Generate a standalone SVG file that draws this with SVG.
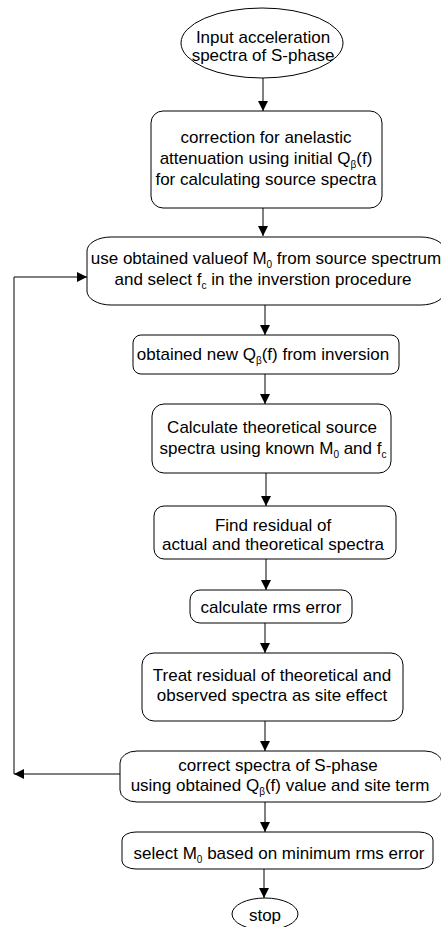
<svg xmlns="http://www.w3.org/2000/svg" width="441" height="927" viewBox="0 0 441 927">
<defs>
<style>
.n{fill:#fff;stroke:#000;stroke-width:1}
.t{font-family:"Liberation Sans",Arial,sans-serif;font-size:17px;fill:#000;text-anchor:middle}
.s{font-size:10px}
.c{fill:none;stroke:#000;stroke-width:1}
</style>
<marker id="ah" markerUnits="userSpaceOnUse" markerWidth="10" markerHeight="10" refX="10" refY="5" orient="auto">
<path d="M0,0 L10,5 L0,10 z" fill="#000"/>
</marker>
</defs>
<rect width="441" height="927" fill="#fff"/>
<g id="connectors">
<line class="c" x1="263" y1="78" x2="263" y2="111" marker-end="url(#ah)"/>
<line class="c" x1="263" y1="208" x2="263" y2="236" marker-end="url(#ah)"/>
<line class="c" x1="265" y1="305" x2="265" y2="335" marker-end="url(#ah)"/>
<line class="c" x1="265" y1="374" x2="265" y2="404" marker-end="url(#ah)"/>
<line class="c" x1="266" y1="473" x2="266" y2="506" marker-end="url(#ah)"/>
<line class="c" x1="266" y1="559" x2="266" y2="590" marker-end="url(#ah)"/>
<line class="c" x1="265" y1="623" x2="265" y2="653" marker-end="url(#ah)"/>
<line class="c" x1="265" y1="721" x2="265" y2="751" marker-end="url(#ah)"/>
<line class="c" x1="265" y1="802" x2="265" y2="832" marker-end="url(#ah)"/>
<line class="c" x1="264" y1="869" x2="264" y2="898" marker-end="url(#ah)"/>
<line class="c" x1="120" y1="774" x2="14" y2="774" marker-end="url(#ah)"/>
<polyline class="c" points="14,774 14,277 87,277" marker-end="url(#ah)"/>
</g>
<g id="start">
<ellipse class="n" cx="262" cy="43" rx="81" ry="35"/>
<text class="t" x="263" y="43">Input acceleration</text>
<text class="t" x="263" y="61">spectra of S-phase</text>
</g>
<g id="correction">
<rect class="n" x="151" y="111" width="231" height="97" rx="12" ry="12"/>
<text class="t" x="266" y="143">correction for anelastic</text>
<text class="t" x="266" y="164">attenuation using initial Q<tspan class="s" dy="4">β</tspan><tspan dy="-4">(f)</tspan></text>
<text class="t" x="266" y="185">for calculating source spectra</text>
</g>
<g id="use-m0">
<rect class="n" x="87" y="237" width="358" height="68" rx="24" ry="14"/>
<text class="t" x="266" y="264">use obtained valueof M<tspan class="s" dy="4">0</tspan><tspan dy="-4"> from source spectrum</tspan></text>
<text class="t" x="263" y="285">and select f<tspan class="s" dy="4">c</tspan><tspan dy="-4"> in the inverstion procedure</tspan></text>
</g>
<g id="new-q">
<rect class="n" x="133" y="335" width="266" height="39" rx="8" ry="8"/>
<text class="t" x="263" y="360">obtained new Q<tspan class="s" dy="4">β</tspan><tspan dy="-4">(f) from inversion</tspan></text>
</g>
<g id="theoretical">
<rect class="n" x="152" y="404" width="239" height="69" rx="12" ry="12"/>
<text class="t" x="272" y="433">Calculate theoretical source</text>
<text class="t" x="273" y="454">spectra using known M<tspan class="s" dy="4">0</tspan><tspan dy="-4"> and f</tspan><tspan class="s" dy="4">c</tspan></text>
</g>
<g id="residual">
<rect class="n" x="154" y="506" width="242" height="53" rx="10" ry="10"/>
<text class="t" x="273" y="531">Find residual of</text>
<text class="t" x="273" y="550">actual and theoretical spectra</text>
</g>
<g id="rms">
<rect class="n" x="190" y="590" width="162" height="33" rx="10" ry="10"/>
<text class="t" x="271" y="613">calculate rms error</text>
</g>
<g id="site">
<rect class="n" x="142" y="653" width="261" height="68" rx="12" ry="12"/>
<text class="t" x="272" y="681">Treat residual of theoretical and</text>
<text class="t" x="272" y="701">observed spectra as site effect</text>
</g>
<g id="correct-spectra">
<rect class="n" x="120" y="751" width="322" height="51" rx="17" ry="12"/>
<text class="t" x="278" y="771">correct spectra of S-phase</text>
<text class="t" x="280" y="791">using obtained Q<tspan class="s" dy="4">β</tspan><tspan dy="-4">(f) value and site term</tspan></text>
</g>
<g id="select">
<rect class="n" x="122" y="832" width="311" height="37" rx="14" ry="8"/>
<text class="t" x="279" y="859">select M<tspan class="s" dy="4">0</tspan><tspan dy="-4"> based on minimum rms error</tspan></text>
</g>
<g id="stop">
<ellipse class="n" cx="265" cy="914" rx="33" ry="16"/>
<text class="t" x="265" y="921">stop</text>
</g>
</svg>
